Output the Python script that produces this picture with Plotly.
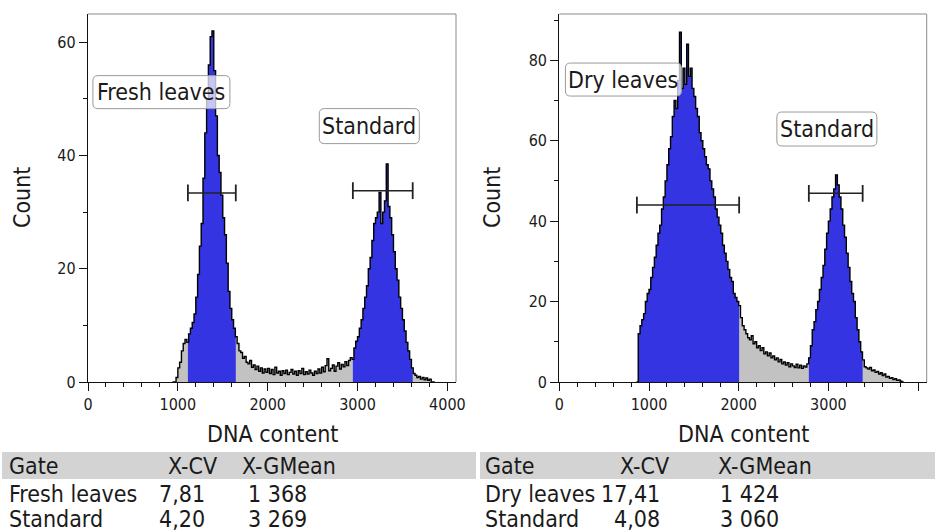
import numpy as np
import plotly.graph_objects as go

# ---------------- data ----------------
BIN_WIDTH = 20

fresh_start = 940
fresh_counts = [
    0, 0, 0.8, 2.5, 3.5, 5.5, 6.8, 7.5, 7, 8.5,            # 940-1120
    9.5, 10.5, 12, 15, 19, 24, 28, 36, 44, 50,             # 1140-1320
    56, 61, 62, 55, 47, 40, 37, 33, 29, 26,                # 1340-1520
    21, 16, 13, 11, 9.5, 8, 6.8, 5.5, 5.2, 4.2,            # 1540-1720
    4.5, 3.5, 3.2, 3.8, 2.6, 3.0, 2.2, 2.8, 1.9, 2.5,      # 1740-1920
    1.6, 2.3, 1.7, 2.4, 1.5, 2.2, 1.3, 2.6, 1.6, 1.9,      # 1940-2120
    1.2, 2.0, 1.5, 2.1, 1.3, 1.7, 2.2, 1.4, 1.9, 1.2,      # 2140-2320
    2.0, 1.5, 2.4, 1.3, 1.8, 1.4, 2.1, 1.6, 1.2, 1.9,      # 2340-2520
    1.5, 2.3, 1.6, 2.6, 1.8, 2.9, 4.1, 2.0, 2.4, 3.0,      # 2540-2720
    1.9, 2.8, 3.4, 2.3, 3.1, 2.7, 3.6, 2.9, 3.8, 4.3,      # 2740-2920
    4.0, 6.0, 7.2, 8.0, 9.5, 11, 13, 15, 17, 20,           # 2940-3120
    22, 25, 28, 29, 30, 33.5, 28, 30, 32, 38.5,            # 3140-3320
    31, 29, 26, 23, 20, 18, 15, 13, 11, 9,                 # 3340-3520
    7, 5.5, 4, 2.5, 1.5, 1.2, 0.8, 1.0, 0.5, 0.8,          # 3540-3720
    0.4, 0.7, 0.3, 0.5, 0, 0,                              # 3740-3840
]

dry_start = 860
dry_counts = [
    0, 12, 14, 15.5, 17, 20, 22, 23, 26, 28.5,             # 860-1040
    31, 34, 37, 39, 43, 46, 50, 54, 58, 61,                # 1060-1240
    66, 70, 68, 75, 87, 73, 78, 74, 84, 76,                # 1260-1440
    78, 73, 71, 68, 66, 62, 60, 58, 56, 54,                # 1460-1640
    53, 50, 48, 46, 43, 41, 39, 37, 34, 32,                # 1660-1840
    30, 28, 26, 25, 22, 21, 20, 19, 16, 14,                # 1860-2040
    13, 12, 11, 10.5, 11.5, 9.5, 10, 8.5, 9, 7.8,          # 2060-2240
    8.5, 7, 7.5, 6.5, 7.2, 6.0, 6.5, 5.5, 6.0, 5.0,        # 2260-2440
    5.6, 4.5, 5.0, 4.2, 4.8, 3.8, 4.5, 4.0, 3.6, 4.4,      # 2460-2640
    3.5, 4.2, 3.4, 4.0, 3.7, 4.5, 6.0, 9, 13, 15,          # 2660-2840
    18, 20, 23, 26, 29, 33, 37, 40, 43, 46,                # 2860-3040
    48, 51.5, 49, 46, 43, 39, 36, 32, 28.5, 25,            # 3060-3240
    22, 20, 16, 13, 10, 7.5, 5.5, 3.8, 3.5, 3.2,           # 3260-3440
    3.6, 2.8, 3.0, 2.4, 2.6, 2.0, 2.3, 1.6, 2.0, 1.2,      # 3460-3640
    1.4, 0.9, 1.1, 0.6, 0.8, 0.4, 0.5, 0.2, 0,             # 3660-3820
]

fresh_gate_names = ["Fresh leaves", "Standard"]
fresh_gate_lo = [1112, 2948]
fresh_gate_hi = [1645, 3614]
fresh_gate_level = [33.4, 33.8]
fresh_cv = ["7,81", "4,20"]
fresh_gmean = ["1 368", "3 269"]

dry_gate_names = ["Dry leaves", "Standard"]
dry_gate_lo = [865, 2782]
dry_gate_hi = [2005, 3382]
dry_gate_level = [44.0, 46.9]
dry_cv = ["17,41", "4,08"]
dry_gmean = ["1 424", "3 060"]

table_header = ["Gate", "X-CV", "X-GMean"]

x_ticks = [0, 1000, 2000, 3000, 4000]
fresh_y_ticks = [0, 20, 40, 60]
dry_y_ticks = [0, 20, 40, 60, 80]

# label placement (data coords) and box sizes (px)
fresh_label_pos = [(817, 51.2), (3131, 45.2)]
fresh_label_box = [(137, 33), (100, 35)]
dry_label_pos = [(715, 75.2), (2983, 62.9)]
dry_label_box = [(116, 33), (100, 34)]

# ---------------- style ----------------
W, H = 935, 531
FONT = "DejaVu Sans Condensed, Liberation Sans Narrow, DejaVu Sans, sans-serif"
BLUE = "#3434e2"
GREY = "#c2c2c2"
TXT = "#1a1a1a"

fig = go.Figure()


def segment(xs, ys, lo, hi):
    i0 = int(np.searchsorted(xs, lo, side="right") - 1)
    sx, sy = [lo], [ys[max(i0, 0)]]
    for x, y in zip(xs, ys):
        if lo < x < hi:
            sx.append(x)
            sy.append(y)
    sx.append(hi)
    sy.append(sy[-1])
    return sx, sy


def add_panel(start, counts, lo_list, hi_list, levels, xa, ya):
    xs = np.array([start + BIN_WIDTH * i for i in range(len(counts))], dtype=float)
    ys = np.array(counts, dtype=float)
    xs_full = np.append(xs, xs[-1] + BIN_WIDTH)
    ys_full = np.append(ys, ys[-1])
    fig.add_trace(go.Scatter(x=xs_full, y=ys_full, mode="lines", line=dict(width=0, shape="hv"),
                             fill="tozeroy", fillcolor=GREY, xaxis=xa, yaxis=ya,
                             showlegend=False, hoverinfo="skip"))
    for lo, hi in zip(lo_list, hi_list):
        sx, sy = segment(xs, ys, lo, hi)
        fig.add_trace(go.Scatter(x=sx, y=sy, mode="lines", line=dict(width=0, shape="hv"),
                                 fill="tozeroy", fillcolor=BLUE, xaxis=xa, yaxis=ya,
                                 showlegend=False, hoverinfo="skip"))
    fig.add_trace(go.Scatter(x=xs_full, y=ys_full, mode="lines",
                             line=dict(width=1.4, color="black", shape="hv"),
                             xaxis=xa, yaxis=ya, showlegend=False))
    for lo, hi, lv in zip(lo_list, hi_list, levels):
        fig.add_trace(go.Scatter(x=[lo, hi], y=[lv, lv], mode="lines+markers",
                                 line=dict(width=1.5, color="#222"),
                                 marker=dict(symbol="line-ns", size=12,
                                             line=dict(width=1.8, color="#222")),
                                 xaxis=xa, yaxis=ya, showlegend=False, cliponaxis=False))


add_panel(fresh_start, fresh_counts, fresh_gate_lo, fresh_gate_hi, fresh_gate_level, "x", "y")
add_panel(dry_start, dry_counts, dry_gate_lo, dry_gate_hi, dry_gate_level, "x2", "y2")

y_dom = [(H - 382) / H, (H - 14) / H]
x1_dom = [88 / W, 456 / W]
x2_dom = [559.3 / W, 926.7 / W]

axis_common = dict(showline=True, linecolor="#111", linewidth=1.3, ticks="outside", ticklen=8,
                   tickwidth=1.2, tickcolor="#111", showgrid=False, zeroline=False,
                   automargin=False,
                   tickfont=dict(family=FONT, size=16, color=TXT))

fig.update_layout(
    width=W, height=H, margin=dict(l=0, r=0, t=0, b=0),
    paper_bgcolor="white", plot_bgcolor="white",
    font=dict(family=FONT, color=TXT),
    xaxis=dict(domain=x1_dom, anchor="y", range=[0, 4096], tickvals=x_ticks,
               minor=dict(dtick=200, ticklen=4, ticks="outside", tickcolor="#111"), **axis_common),
    yaxis=dict(domain=y_dom, anchor="x", range=[0, 65], tickvals=fresh_y_ticks,
               minor=dict(dtick=10, ticklen=4, ticks="outside", tickcolor="#111"), **axis_common),
    xaxis2=dict(domain=x2_dom, anchor="y2", range=[0, 4096], tickvals=x_ticks,
                minor=dict(dtick=200, ticklen=4, ticks="outside", tickcolor="#111"), **axis_common),
    yaxis2=dict(domain=y_dom, anchor="x2", range=[0, 91.5], tickvals=dry_y_ticks,
                minor=dict(dtick=10, ticklen=4, ticks="outside", tickcolor="#111"), **axis_common),
)

shapes = []
annotations = []
for xr, yr in [("x domain", "y domain"), ("x2 domain", "y2 domain")]:
    shapes.append(dict(type="line", xref=xr, yref=yr, x0=0, x1=1, y0=1, y1=1,
                       line=dict(color="#8a8a8a", width=1)))
    shapes.append(dict(type="line", xref=xr, yref=yr, x0=1, x1=1, y0=0, y1=1,
                       line=dict(color="#8a8a8a", width=1)))


def rounded_path(w, h, r=5):
    x0, x1, y0, y1 = -w / 2, w / 2, -h / 2, h / 2
    return (f"M{x0 + r},{y0} L{x1 - r},{y0} Q{x1},{y0} {x1},{y0 + r} "
            f"L{x1},{y1 - r} Q{x1},{y1} {x1 - r},{y1} L{x0 + r},{y1} "
            f"Q{x0},{y1} {x0},{y1 - r} L{x0},{y0 + r} Q{x0},{y0} {x0 + r},{y0} Z")


for names, pos, boxes, xr, yr in [(fresh_gate_names, fresh_label_pos, fresh_label_box, "x", "y"),
                                  (dry_gate_names, dry_label_pos, dry_label_box, "x2", "y2")]:
    for name, (lx, ly), (bw, bh) in zip(names, pos, boxes):
        shapes.append(dict(type="path", xref=xr, yref=yr, xsizemode="pixel", ysizemode="pixel",
                           xanchor=lx, yanchor=ly, path=rounded_path(bw, bh),
                           fillcolor="rgba(255,255,255,0.72)", line=dict(color="#9a9a9a", width=1),
                           layer="above"))
        annotations.append(dict(x=lx, y=ly, xref=xr, yref=yr, text=name, showarrow=False,
                                xanchor="center", yanchor="middle",
                                font=dict(family=FONT, size=23, color=TXT)))

for cx in [(88 + 456) / 2, (559.3 + 926.7) / 2]:
    annotations.append(dict(x=cx / W, y=1 - 434 / H, xref="paper", yref="paper", text="DNA content",
                            xanchor="center", yanchor="middle",
                            showarrow=False, font=dict(family=FONT, size=23, color=TXT)))
for cx in [22, 492]:
    annotations.append(dict(x=cx / W, y=1 - 198 / H, xref="paper", yref="paper", text="Count",
                            xanchor="center", yanchor="middle",
                            textangle=-90, showarrow=False, font=dict(family=FONT, size=23, color=TXT)))

for x0, x1 in [(2, 476), (480, 935)]:
    shapes.append(dict(type="rect", xref="paper", yref="paper", x0=x0 / W, x1=x1 / W,
                       y0=1 - 479 / H, y1=1 - 452 / H, fillcolor="#d3d3d3", line=dict(width=0),
                       layer="below"))


def txt(x, y, s, anchor="left"):
    annotations.append(dict(x=x / W, y=1 - y / H, xref="paper", yref="paper", text=s,
                            showarrow=False, xanchor=anchor, yanchor="middle",
                            font=dict(family=FONT, size=23, color=TXT)))


row_y = [494, 519]
for (gx, cvx, cvr, gmx, gmv), names, cvs, gms in [
        ((7, 166, 207, 240, 246), fresh_gate_names, fresh_cv, fresh_gmean),
        ((483, 618, 662, 716, 718), dry_gate_names, dry_cv, dry_gmean)]:
    txt(gx, 466, table_header[0])
    txt(cvx, 466, table_header[1])
    txt(gmx, 466, table_header[2])
    for ry, n, c, g in zip(row_y, names, cvs, gms):
        txt(gx, ry, n)
        txt(cvr, ry, c, anchor="right")
        txt(gmv, ry, g)

fig.update_layout(shapes=shapes, annotations=annotations)
fig.write_html("out.html", config={"displayModeBar": False},
               post_script="document.body.style.margin='0px';")
